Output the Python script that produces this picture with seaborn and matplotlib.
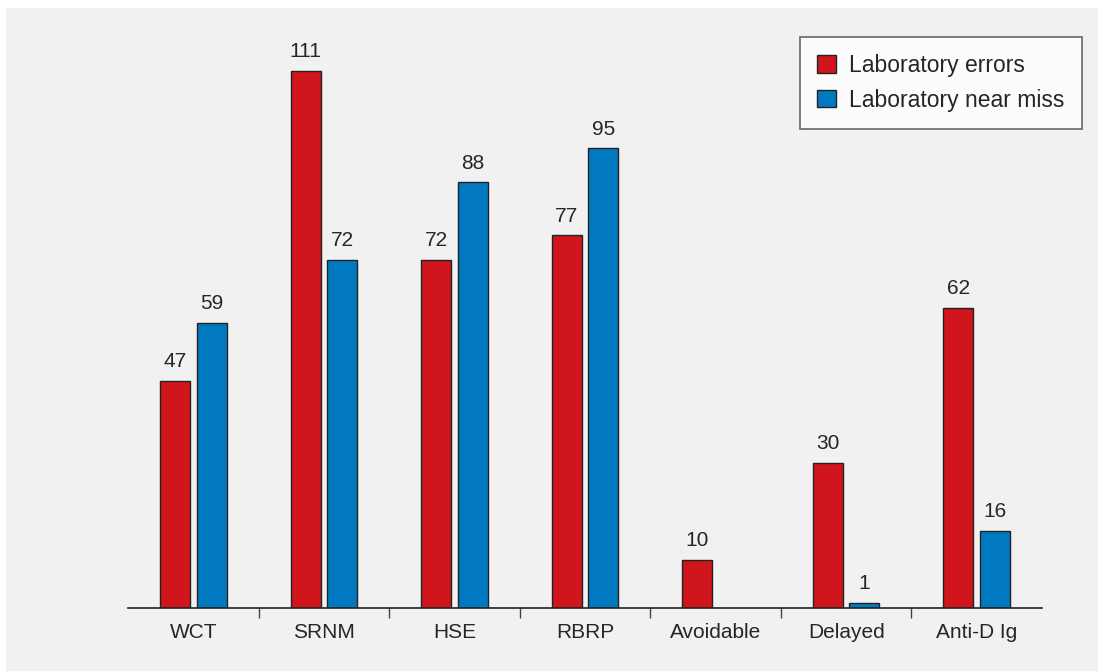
import numpy as np
import pandas as pd
import matplotlib.pyplot as plt
from matplotlib.patches import Rectangle
import seaborn as sns

categories = ['WCT', 'SRNM', 'HSE', 'RBRP', 'Avoidable', 'Delayed', 'Anti-D Ig']
lab_errors = [47, 111, 72, 77, 10, 30, 62]
near_miss = [59, 72, 88, 95, np.nan, 1, 16]
series = ['Laboratory errors', 'Laboratory near miss']
colors = ['#d0161c', '#0079c1']

df = pd.DataFrame({
    'category': categories * 2,
    'series': [series[0]] * len(categories) + [series[1]] * len(categories),
    'value': lab_errors + near_miss,
})

sns.set_style('white')
plt.rcParams['font.family'] = ['Liberation Sans', 'DejaVu Sans']
text_col = '#262626'

fig = plt.figure(figsize=(10.98, 6.71), dpi=100)
fig.patch.set_facecolor('white')
# grey panel behind the chart
fig.patches.append(Rectangle((6 / 1098, 0), 1, 1 - 8 / 671, transform=fig.transFigure,
                             facecolor='#f1f1f1', edgecolor='none', zorder=-10))

ax = fig.add_axes([128 / 1098, 1 - 608 / 671, (1042 - 128) / 1098, (608 - 20) / 671])
ax.set_facecolor('none')

sns.barplot(data=df, x='category', y='value', hue='series', order=categories,
            hue_order=series, palette=colors, width=0.56, gap=0.18,
            edgecolor='#222222', linewidth=1, saturation=1, ax=ax, legend=True)

for cont in ax.containers:
    labels = ['' if np.isnan(v) else f'{int(v)}' for v in cont.datavalues]
    ax.bar_label(cont, labels=labels, padding=7, fontsize=15, color=text_col)

ax.set_xlim(-0.5, len(categories) - 0.5)
ax.set_ylim(0, (608 - 20) / (537 / 111))
ax.set_xlabel('')
ax.set_ylabel('')
ax.set_yticks([])
for s in ['top', 'right', 'left']:
    ax.spines[s].set_visible(False)
ax.spines['bottom'].set_color('#222222')
ax.spines['bottom'].set_linewidth(1.2)

ax.set_xticks(range(len(categories)))
ax.set_xticklabels(categories, fontsize=15, color=text_col)
ax.set_xticks(np.arange(0.5, len(categories) - 1, 1), minor=True)
ax.tick_params(axis='x', which='major', length=0, pad=11)
ax.tick_params(axis='x', which='minor', bottom=True, length=7, width=1,
               color='#444444', direction='out')

leg = ax.legend(loc='upper right', bbox_to_anchor=(1082 / 1098, 1 - 37 / 671),
                bbox_transform=fig.transFigure, fontsize=16.5, frameon=True,
                fancybox=False, handlelength=0.8, handleheight=0.8,
                handletextpad=0.6, borderpad=0.75, labelspacing=0.5,
                borderaxespad=0)
leg.get_frame().set_edgecolor('#444444')
leg.get_frame().set_facecolor('white')
leg.get_frame().set_linewidth(1.2)
for t in leg.get_texts():
    t.set_color(text_col)

fig.savefig('out.png', dpi=100)
